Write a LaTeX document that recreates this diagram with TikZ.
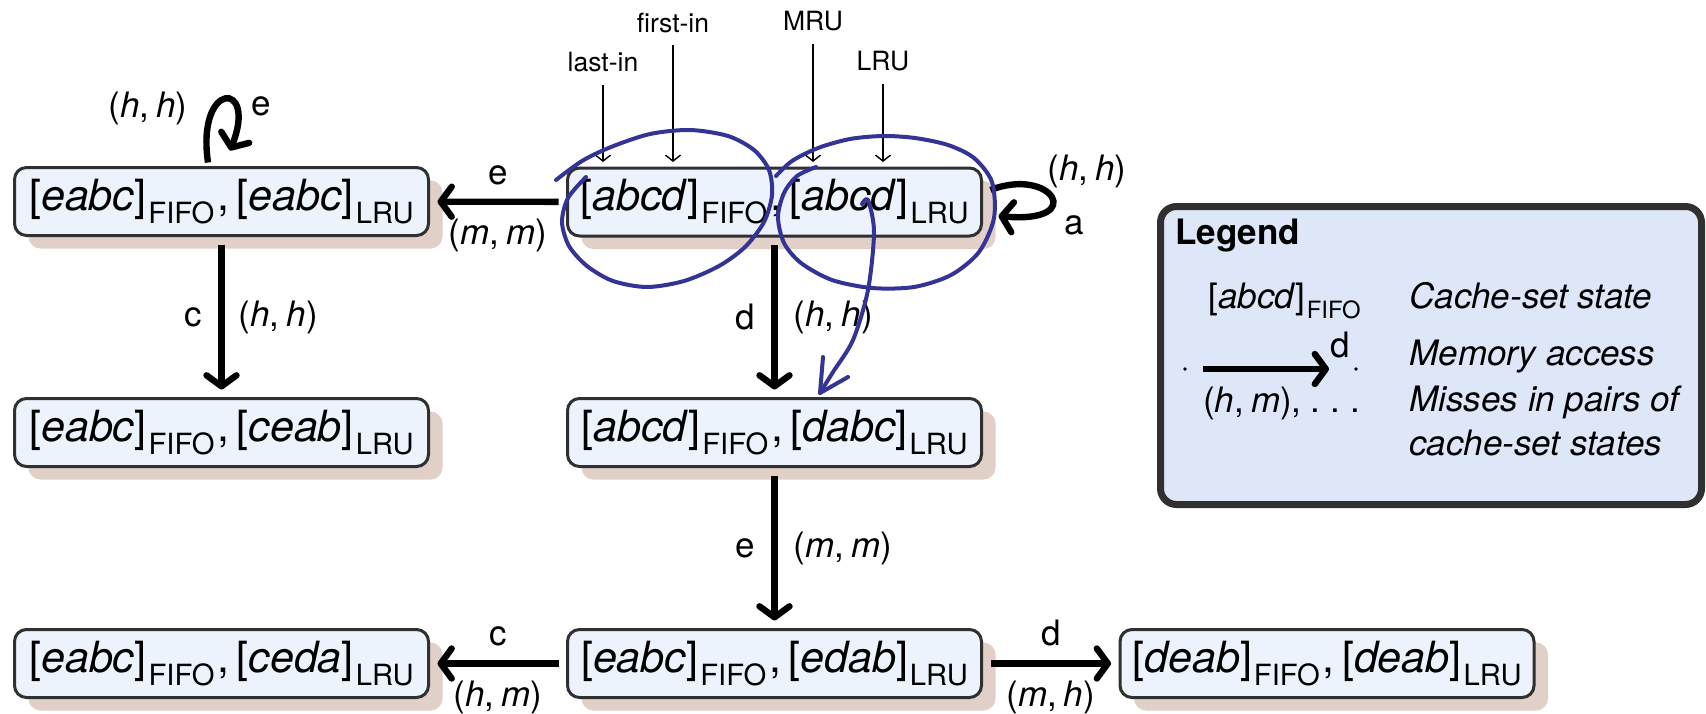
\documentclass[tikz,border=0pt]{standalone}
\usepackage{fontspec}
\setmainfont{TeX Gyre Heros}
\usetikzlibrary{arrows.meta,shadows}

\definecolor{statefill}{RGB}{236,243,252}
\definecolor{stateline}{RGB}{48,48,48}
\definecolor{statetan}{RGB}{224,208,199}
\definecolor{legfill}{RGB}{222,231,248}
\definecolor{inkblue}{RGB}{52,52,150}

\newcommand\statesize{\fontsize{21.5pt}{25pt}\selectfont}
\newcommand\subsize{\fontsize{14.6pt}{17pt}\selectfont}
\newcommand\labelsize{\fontsize{17.5pt}{21pt}\selectfont}
\newcommand\legsubsize{\fontsize{11.9pt}{14pt}\selectfont}
\newcommand\pointsize{\fontsize{13.25pt}{16pt}\selectfont}

% one cache-set state with its policy as subscript
\newcommand\cst[2]{[\textit{#1}]\kern1pt\raisebox{-6.5pt}{\subsize #2}}
\newcommand\legcst[2]{[\textit{#1}]\kern0.8pt\raisebox{-5.3pt}{\legsubsize #2}}
% a FIFO/LRU pair of states
\newcommand\pairst[2]{\cst{#1}{FIFO}\kern1.5pt,\kern3.6pt\cst{#2}{LRU}}
% hit/miss pair
\newcommand\hm[2]{(\textit{#1},\kern0.2em\textit{#2})}

\begin{document}
\begin{tikzpicture}[x=0.5pt,y=-0.5pt,
  state/.style={draw=stateline, line width=1.5pt, fill=statefill,
    rounded corners=6pt, minimum width=207pt, minimum height=34pt,
    inner sep=0pt, outer sep=4.5pt, font=\statesize,
    drop shadow={shadow xshift=7pt, shadow yshift=-6.5pt, fill=statetan, opacity=1}},
  move/.style={line width=3.2pt, -{Straight Barb[length=5.5pt,width=15pt,round]}},
  pointer/.style={line width=0.7pt, -{Straight Barb[length=3pt,width=7.5pt]}},
  lbl/.style={font=\labelsize, inner sep=0pt},
  toplbl/.style={font=\pointsize, inner sep=0pt, outer sep=6.5pt},
  legtext/.style={font=\labelsize, inner sep=0pt},
  ink/.style={draw=inkblue, line width=2pt, line cap=round, line join=round}]

\useasboundingbox (0,0) rectangle (1706,713);

% states
\node[state] (A) at (221.5,201.5) {\pairst{eabc}{eabc}};
\node[state] (B) at (774.5,202)   {\pairst{abcd}{abcd}};
\node[state] (C) at (221.5,432.5) {\pairst{eabc}{ceab}};
\node[state] (D) at (774.5,432.5) {\pairst{abcd}{dabc}};
\node[state] (E) at (774.5,663.5) {\pairst{eabc}{edab}};
\node[state] (F) at (221.5,663.5) {\pairst{eabc}{ceda}};
\node[state] (G) at (1327,663.5)  {\pairst{deab}{deab}};

% transitions
\draw[move] (B) -- node[lbl, above=7pt] (lBAa) {e} node[lbl, below=7pt] (lBAb) {\hm{m}{m}} (A);
\draw[move] (A) -- node[lbl, left=8pt] (lACa) {c} node[lbl, right=7pt] (lACb) {\hm{h}{h}} (C);
\draw[move] (B) -- node[lbl, left=8pt] (lBDa) {d} node[lbl, right=8pt] (lBDb) {\hm{h}{h}} (D);
\draw[move] (D) -- node[lbl, left=8pt] (lDEa) {e} node[lbl, right=8pt] (lDEb) {\hm{m}{m}} (E);
\draw[move] (E) -- node[lbl, above=7pt] (lEFa) {c} node[lbl, below=7pt] (lEFb) {\hm{h}{m}} (F);
\draw[move] (E) -- node[lbl, above=7pt] (lEGa) {d} node[lbl, below=7pt] (lEGb) {\hm{m}{h}} (G);

% self loops
\draw[move] ([xshift=-6.75pt,yshift=-2pt]A.north) .. controls (196,80) and (258,80) .. ([xshift=4.25pt,yshift=4pt]A.north);
\node[lbl] (lAAb) at (148,108) {\hm{h}{h}};
\node[lbl] (lAAa) at (261,106) {e};
\draw[move] ([yshift=6pt]B.east) .. controls (1052,166) and (1088,224) .. ([xshift=4pt,yshift=-7pt]B.east);
\node[lbl] (lBBb) at (1087,171) {\hm{h}{h}};
\node[lbl] (lBBa) at (1074,225) {a};

% position markers above the initial state
\node[toplbl] (tLast)  at (603,62.5) {last-in};
\node[toplbl] (tFirst) at (673,22.5) {first-in};
\node[toplbl] (tMRU)   at (813,21.5) {MRU};
\node[toplbl] (tLRU)   at (883,61.5) {LRU};
\coordinate (pLast)  at (603,162);
\coordinate (pFirst) at (673,162);
\coordinate (pMRU)   at (813,162);
\coordinate (pLRU)   at (883,162);
\draw[pointer] (tLast) -- (pLast);
\draw[pointer] (tFirst) -- (pFirst);
\draw[pointer] (tMRU) -- (pMRU);
\draw[pointer] (tLRU) -- (pLRU);

% legend
\node[draw=stateline, line width=3.5pt, fill=legfill, rounded corners=8pt,
      minimum width=270.5pt, minimum height=149pt, inner sep=0pt] (leg) at (1431,355.5) {};
\node[legtext, anchor=base west, font=\labelsize\bfseries] (legT) at (1175,244) {Legend};
\node[legtext, anchor=base east] (leg1) at (1361,308) {\legcst{abcd}{FIFO}};
\node[legtext, anchor=base west] (leg1t) at (1409,308) {\textit{Cache-set state}};
\coordinate (la) at (1203,369);
\coordinate (lb) at (1329,369);
\fill (1185,369) circle (0.9pt);
\fill (1356,369) circle (0.9pt);
\draw[move] (la) -- (lb);
\node[legtext, anchor=base] (legd) at (1340,357) {d};
\node[legtext, anchor=base west] (leg2t) at (1409,365) {\textit{Memory access}};
\node[legtext, anchor=base east] (leg3) at (1361,412) {\hm{h}{m},\kern0.25em.\kern0.3em.\kern0.3em.};
\node[legtext, anchor=base west] (leg3t) at (1409,411) {\textit{Misses in pairs of}};
\node[legtext, anchor=base west] (leg4t) at (1409,455) {\textit{cache-set states}};

% hand-drawn annotations
\draw[ink] plot[smooth] coordinates {(556,180) (582,161) (611,147) (650,134) (690,130) (728,136) (754,150) (769,170) (772,195) (764,222) (745,247) (719,266) (684,281) (647,287) (613,281) (587,266) (569,246) (562,222) (568,198) (586,177)};
\draw[ink] plot[smooth] coordinates {(816,167) (797,176) (784,193) (778,217) (784,243) (801,263) (832,280) (872,288) (914,287) (951,275) (979,252) (994,218) (992,182) (974,158) (948,145) (915,138) (883,136) (850,139) (818,148) (792,161) (776,176)};
\draw[ink] plot[smooth] coordinates {(862,204) (868,200) (874,232) (868,290) (853,340) (833,372) (820,393)};
\draw[ink] (823,357) -- (820,393) -- (848,377);
\end{tikzpicture}
\end{document}
